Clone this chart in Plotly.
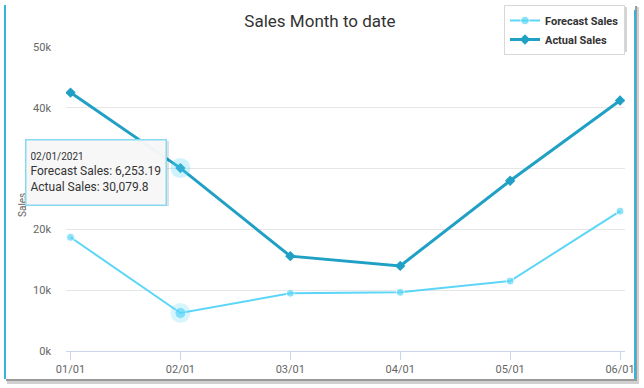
import plotly.graph_objects as go

categories = ["01/01", "02/01", "03/01", "04/01", "05/01", "06/01"]
forecast_sales = [18700, 6253.19, 9500, 9650, 11500, 23000]
actual_sales = [42500, 30079.8, 15600, 14000, 28000, 41200]
y_tickvals = [0, 10000, 20000, 30000, 40000, 50000]
y_ticktext = ["0k", "10k", "20k", "30k", "40k", "50k"]
hover_index = 1
hover_date = "02/01/2021"

FC = "#5cd6f7"
AC = "#1fa0c4"
W, H = 644, 388
PL, PR, PT, PB = 66, 625, 47, 351  # plot area in pixels


def px(x):
    return x / W


def py(y):
    return (H - y) / H


fig = go.Figure()

fsizes = [8] * len(categories)
fsizes[hover_index] = 11
fig.add_trace(go.Scatter(x=categories, y=forecast_sales, name="Forecast Sales",
                         mode="lines+markers", line=dict(color=FC, width=2),
                         marker=dict(color=FC, size=fsizes, symbol="circle")))
fig.add_trace(go.Scatter(x=categories, y=actual_sales, name="Actual Sales",
                         mode="lines+markers", line=dict(color=AC, width=3),
                         marker=dict(color=AC, size=8, symbol="diamond")))
# halos at hovered point
fig.add_trace(go.Scatter(x=[categories[hover_index]], y=[forecast_sales[hover_index]],
                         mode="markers", marker=dict(size=20, color=FC, opacity=0.25),
                         showlegend=False, hoverinfo="skip"))
fig.add_trace(go.Scatter(x=[categories[hover_index]], y=[actual_sales[hover_index]],
                         mode="markers", marker=dict(size=20, color=FC, opacity=0.3),
                         showlegend=False, hoverinfo="skip"))

shapes = [
    # card shadow
    dict(type="rect", xref="paper", yref="paper", x0=px(7), x1=px(639), y0=py(384), y1=py(7),
         fillcolor="#d0d0d0", line=dict(width=0), layer="below"),
    dict(type="rect", xref="paper", yref="paper", x0=px(6), x1=px(637), y0=py(381), y1=py(6),
         fillcolor="#9a9a9a", line=dict(width=0), layer="below"),
    # card
    dict(type="rect", xref="paper", yref="paper", x0=px(4), x1=px(635), y0=py(379), y1=py(4),
         fillcolor="white", line=dict(width=0), layer="below"),
    dict(type="line", xref="paper", yref="paper", x0=px(5), x1=px(5), y0=py(379), y1=py(5),
         line=dict(color="#3bb0d8", width=2), layer="below"),
    dict(type="line", xref="paper", yref="paper", x0=px(635), x1=px(635), y0=py(379), y1=py(10),
         line=dict(color="#3bb0d8", width=2), layer="below"),
    # legend shadow
    dict(type="rect", xref="paper", yref="paper", x0=px(507), x1=px(627), y0=py(52), y1=py(7),
         fillcolor="#d4d4d4", line=dict(width=0), layer="above"),
    # tooltip shadow
    dict(type="rect", xref="paper", yref="paper", x0=px(27), x1=px(169), y0=py(206), y1=py(141),
         fillcolor="rgba(0,0,0,0.12)", line=dict(width=0), layer="above"),
]

annotations = [
    dict(text="Sales", xref="paper", yref="paper", x=px(22), y=py(205), showarrow=False,
         textangle=-90, font=dict(size=10, color="#666666", family="Roboto"),
         xanchor="center", yanchor="middle"),
    dict(text=("<span style='font-size:10px'>" + hover_date + "</span><br>"
               + "Forecast Sales: " + f"{forecast_sales[hover_index]:,.2f}" + "<br>"
               + "Actual Sales: " + f"{actual_sales[hover_index]:,.1f}"),
         xref="paper", yref="paper", x=px(25), y=py(139), xanchor="left", yanchor="top",
         showarrow=False, align="left", width=131, height=56,
         bgcolor="rgba(248,248,248,0.97)", bordercolor="#86d9f0", borderwidth=1.5, borderpad=4,
         font=dict(size=12, color="#333333", family="Roboto")),
]

fig.update_layout(
    width=W, height=H,
    margin=dict(l=0, r=0, t=0, b=0, pad=0),
    paper_bgcolor="white", plot_bgcolor="rgba(0,0,0,0)",
    font=dict(family="Roboto", color="#666666", size=11),
    title=dict(text="Sales Month to date", x=px(320), xref="paper", xanchor="center",
               y=py(21), yref="paper", yanchor="middle",
               font=dict(size=17, color="#333333", family="Roboto")),
    showlegend=True,
    legend=dict(x=px(625), y=py(5), xanchor="right", yanchor="top",
                bgcolor="white", bordercolor="#d8d8d8", borderwidth=1,
                font=dict(size=11, color="#333333", family="Roboto", weight="bold"),
                tracegroupgap=0, itemwidth=30),
    shapes=shapes, annotations=annotations,
    xaxis=dict(type="category", categoryorder="array", categoryarray=categories,
               domain=[px(PL), px(PR)], range=[-0.041, 5.045], showgrid=False,
               showline=True, linecolor="#ccd6eb", linewidth=1,
               ticks="outside", ticklen=8, tickcolor="#ccd6eb",
               tickfont=dict(size=11, color="#666666"), zeroline=False, fixedrange=True,
               automargin=False),
    yaxis=dict(domain=[py(PB), py(PT)], range=[0, 50000], tickvals=y_tickvals, ticktext=y_ticktext,
               showgrid=True, gridcolor="#e6e6e6", gridwidth=1, zeroline=False,
               showline=False, ticks="", ticklabelstandoff=14,
               tickfont=dict(size=11, color="#666666"), fixedrange=True, automargin=False),
    hovermode=False,
)

fig.write_html("out.html", config={"displayModeBar": False},
               post_script="document.body.style.margin='0px';document.body.style.overflow='hidden';")
